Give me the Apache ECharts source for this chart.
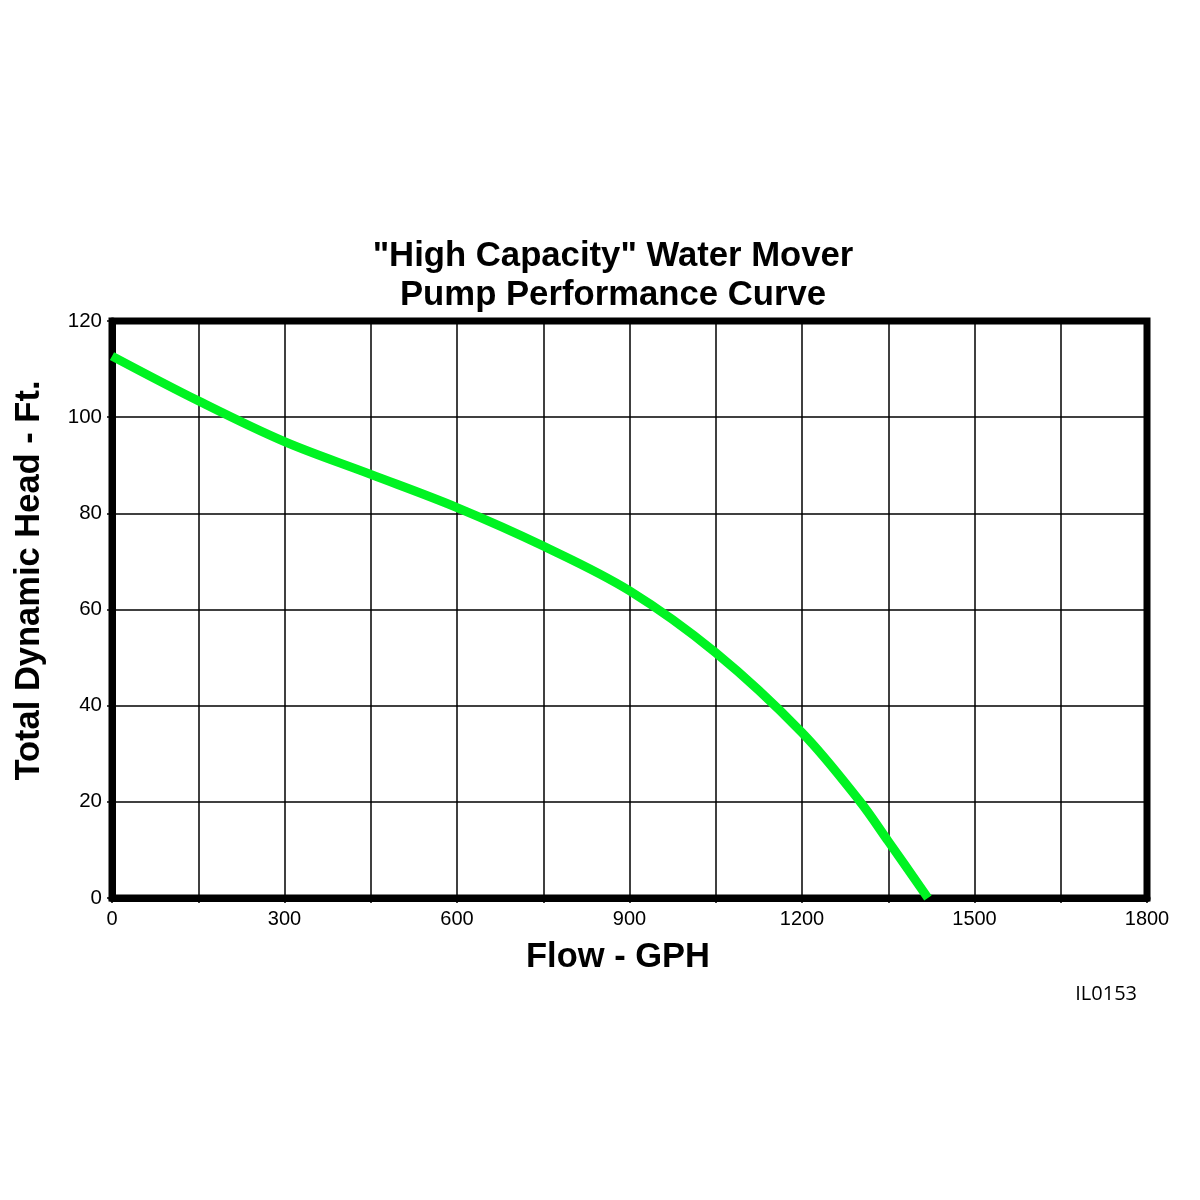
<!DOCTYPE html>
<html>
<head>
<meta charset="utf-8">
<script src="https://cdn.jsdelivr.net/npm/echarts@6/dist/echarts.min.js"></script>
<style>html,body{margin:0;padding:0;background:#fff;}#c{width:1200px;height:1200px;}</style>
</head>
<body>
<div id="c"></div>
<script>
const titleLines = ['"High Capacity" Water Mover', 'Pump Performance Curve'];
const xAxisName = 'Flow - GPH';
const yAxisName = 'Total Dynamic Head - Ft.';
const figureCode = 'IL0153';
const flowGPH = [0, 150, 300, 450, 600, 750, 900, 1050, 1200, 1300, 1350, 1419];
const headFt = [112.7, 103.4, 94.9, 88.1, 81.2, 73.2, 63.9, 51, 34.4, 20.2, 11.8, 0];
const xLabelStep = 300;

const FONT = '"Liberation Sans", Arial, sans-serif';
const chart = echarts.init(document.getElementById('c'), null, {renderer: 'canvas'});
chart.setOption({
  backgroundColor: '#ffffff',
  animation: false,
  title: {
    text: titleLines.join('\n'),
    left: 608, top: 232, textAlign: 'center',
    textStyle: {fontFamily: FONT, fontWeight: 'bold', fontSize: 34.7, lineHeight: 39, color: '#000'}
  },
  grid: {left: 112, right: 53, top: 321, bottom: 302, show: true, borderColor: '#000', borderWidth: 7,
    backgroundColor: 'transparent', outerBoundsMode: 'none', containLabel: false},
  xAxis: {
    type: 'value', min: 0, max: 1800, interval: 150,
    name: xAxisName, nameLocation: 'middle', nameGap: 42,
    nameTextStyle: {fontFamily: FONT, fontWeight: 'bold', fontSize: 34.5, color: '#000', padding: [0, 23, 0, 0]},
    axisLine: {show: true, lineStyle: {color: '#000', width: 7}},
    axisTick: {show: true, length: 5, lineStyle: {color: '#000', width: 1.5}},
    splitLine: {show: true, lineStyle: {color: '#000', width: 1.5}},
    axisLabel: {fontFamily: FONT, fontSize: 20, color: '#000', margin: 11,
      formatter: v => (v % xLabelStep === 0 ? String(v) : '')}
  },
  yAxis: {
    type: 'value', min: 0, max: 120, interval: 20,
    name: yAxisName, nameLocation: 'middle', nameGap: 65, nameRotate: 90,
    nameTextStyle: {fontFamily: FONT, fontWeight: 'bold', fontSize: 34.5, color: '#000', padding: [0, 0, 0, 58]},
    axisLine: {show: true, lineStyle: {color: '#000', width: 7}},
    axisTick: {show: true, length: 5, lineStyle: {color: '#000', width: 1.5}},
    splitLine: {show: true, lineStyle: {color: '#000', width: 1.5}},
    axisLabel: {fontFamily: FONT, fontSize: 20.5, color: '#000', margin: 10}
  },
  graphic: [{
    type: 'text', right: 63, top: 984,
    style: {text: figureCode, fontFamily: '"Open Sans", sans-serif', fontSize: 20, fill: '#000'}
  }],
  series: [{
    type: 'line', smooth: 0.35, showSymbol: false, clip: false,
    lineStyle: {color: '#00f322', width: 9},
    data: flowGPH.map((f, i) => [f, headFt[i]])
  }]
});
</script>
</body>
</html>
